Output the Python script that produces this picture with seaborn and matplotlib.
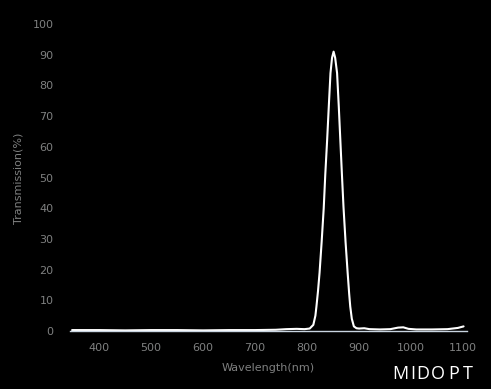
import matplotlib
matplotlib.use("Agg")
import matplotlib.pyplot as plt
import seaborn as sns
import pandas as pd

wavelength = [348, 400, 450, 500, 550, 600, 650, 700, 740, 760, 780, 795, 805,
              812, 816, 818, 821, 824, 828, 832, 835, 838.5, 842, 845, 848, 851,
              854, 857.7, 861, 864, 867, 870, 874, 878, 881, 883, 886, 890, 895,
              900, 910, 920, 940, 960, 975, 985, 995, 1010, 1040, 1070, 1090, 1101]
transmission = [0.3, 0.3, 0.2, 0.3, 0.3, 0.2, 0.3, 0.3, 0.4, 0.6, 0.7, 0.6, 0.8,
                2, 5, 8, 13, 19, 29, 40, 51, 62, 74, 84, 89, 91,
                89, 84, 73, 62, 51, 40.5, 29, 19, 12, 8, 4, 1.5, 0.9,
                0.8, 0.9, 0.6, 0.5, 0.6, 1.1, 1.2, 0.7, 0.5, 0.5, 0.6, 1.0, 1.5]
x_ticks = [400, 500, 600, 700, 800, 900, 1000, 1100]
y_ticks = [0, 10, 20, 30, 40, 50, 60, 70, 80, 90, 100]
logo_letters = ["M", "I", "D", "O", "P", "T"]

df = pd.DataFrame({"Wavelength": wavelength, "Transmission": transmission})

sns.set_style("dark")
plt.rcParams["font.family"] = ["DejaVu Sans"]
fig = plt.figure(figsize=(4.91, 3.89), dpi=100, facecolor="black")
ax = fig.add_axes([70 / 491, 1 - 331 / 389, (466.7 - 70) / 491, (331 - 24) / 389])
ax.set_facecolor("black")

sns.lineplot(data=df, x="Wavelength", y="Transmission", ax=ax,
             color="white", linewidth=1.5, sort=False)

ax.set_xlim(344, 1107)
ax.set_ylim(0, 100)
ax.set_xticks(x_ticks)
ax.set_yticks(y_ticks)
ax.grid(False)

label_col = "#7f8080"
for s in ["top", "right", "left"]:
    ax.spines[s].set_visible(False)
ax.spines["bottom"].set_color("#c8d4e0")
ax.spines["bottom"].set_linewidth(1.0)
ax.tick_params(axis="x", colors="#c8d4e0", labelcolor=label_col, direction="out",
               length=6.5, width=1.0, pad=2, labelsize=8)
ax.tick_params(axis="y", length=0, pad=12, labelcolor=label_col, labelsize=8)

ax.set_xlabel("Wavelength(nm)", color=label_col, fontsize=8)
ax.set_ylabel("Transmission(%)", color=label_col, fontsize=8)
ax.xaxis.set_label_coords((268 - 70) / 396.7, -32 / 307)
ax.yaxis.set_label_coords(-46 / 396.7, (331 - 178) / 307)

logo_x = [400, 412.5, 423, 438, 454, 468]
for letter, lx in zip(logo_letters, logo_x):
    fig.text(lx / 491, 1 - 374 / 389, letter, color="white", fontsize=13,
             ha="center", va="center", family="Open Sans")

fig.savefig("out.png", dpi=100, facecolor="black")
